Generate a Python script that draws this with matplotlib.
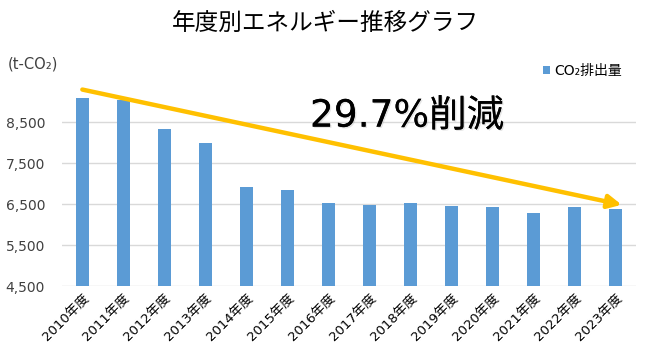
import matplotlib.pyplot as plt
import matplotlib.patheffects as pe

# 数字は DejaVu、漢字・かなは Noto で表示
plt.rcParams['font.family'] = ['DejaVu Sans', 'Noto Sans CJK JP']

# 年度別 CO2 排出量 (t-CO2)
years = ["2010年度", "2011年度", "2012年度", "2013年度", "2014年度", "2015年度", "2016年度",
         "2017年度", "2018年度", "2019年度", "2020年度", "2021年度", "2022年度", "2023年度"]
emissions = [9090, 9040, 8340, 8000, 6920, 6850, 6530, 6480, 6530, 6460, 6430, 6290, 6430, 6390]
yticks = [4500, 5500, 6500, 7500, 8500]

fig = plt.figure(figsize=(6.51, 3.54), dpi=100)
ax = fig.add_axes([0.095, 0.191, 0.882, 0.556])

x = list(range(len(years)))
bars = ax.bar(x, emissions, width=0.32, color="#5B9BD5", zorder=2, label="CO₂排出量")

ax.set_xlim(-0.5, len(years) - 0.5)
ax.set_ylim(4500, 9300)
ax.set_yticks(yticks)
ax.set_yticklabels([f"{v:,}" for v in yticks])
ax.set_xticks(x)
ax.set_xticklabels(years, rotation=45, ha="right", rotation_mode="anchor")
ax.tick_params(axis="y", length=0, labelsize=10, colors="#404040", pad=12)
ax.tick_params(axis="x", length=0, labelsize=9.5, colors="#000000", pad=4)
ax.grid(axis="y", color="#D9D9D9", linewidth=1, zorder=0)
for s in ax.spines.values():
    s.set_visible(False)

# 削減トレンドの矢印
ax.annotate("", xy=(13.15, emissions[-1] + 100), xytext=(0.0, 9300),
            arrowprops=dict(arrowstyle="-|>,head_length=0.8,head_width=0.4",
                            color="#FFC000", lw=3.2, shrinkA=0, shrinkB=0),
            annotation_clip=False, zorder=3)

ax.text(5.55, 8640, "29.7%削減", fontsize=27, va="center", ha="left", color="black", zorder=4,
        path_effects=[pe.withSimplePatchShadow(offset=(1, -1), shadow_rgbFace="gray", alpha=0.2),
                      pe.Normal()])

fig.text(0.5, 0.935, "年度別エネルギー推移グラフ", ha="center", va="center", fontsize=17)
fig.text(0.012, 0.82, "(t-CO₂)", ha="left", va="center", fontsize=10.5, color="#404040")

fig.legend(handles=[bars], loc="center right", bbox_to_anchor=(0.975, 0.80), frameon=False,
           fontsize=10, handlelength=0.55, handleheight=0.55, handletextpad=0.3)

plt.savefig("out.png", dpi=100)
